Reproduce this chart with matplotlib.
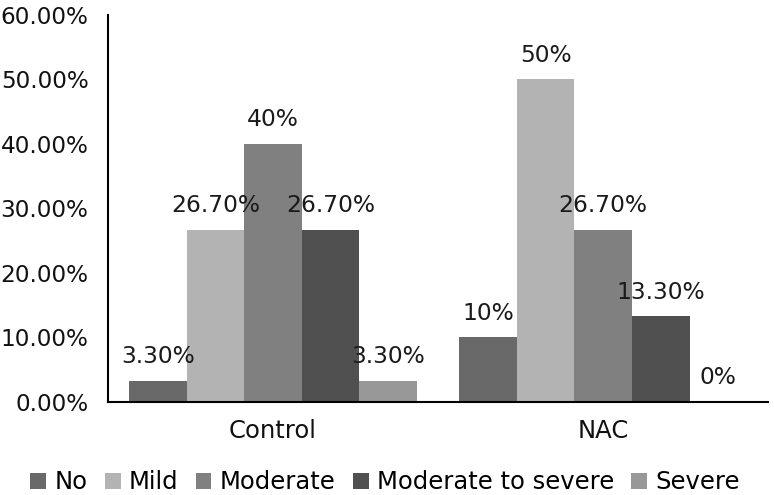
import matplotlib.pyplot as plt
import numpy as np

groups = ['Control', 'NAC']
severity = ['No', 'Mild', 'Moderate', 'Moderate to severe', 'Severe']
control = [3.3, 26.7, 40.0, 26.7, 3.3]
nac = [10.0, 50.0, 26.7, 13.3, 0.0]
control_labels = ['3.30%', '26.70%', '40%', '26.70%', '3.30%']
nac_labels = ['10%', '50%', '26.70%', '13.30%', '0%']
colors = ['#696969', '#b3b3b3', '#808080', '#505050', '#989898']
yticks = [0, 10, 20, 30, 40, 50, 60]

plt.rcParams['font.family'] = 'DejaVu Sans'

fig = plt.figure(figsize=(7.74, 4.95), dpi=100)
ax = fig.add_axes([0.1395, 0.188, 0.853, 0.782])

x = np.arange(len(groups))
width = 0.1745
values = np.array([control, nac]).T
labels = np.array([control_labels, nac_labels]).T
for i in range(len(severity)):
    pos = x + (i - 2) * width
    bars = ax.bar(pos, values[i], width, color=colors[i], label=severity[i])
    for b, lab in zip(bars, labels[i]):
        ax.annotate(lab, (b.get_x() + b.get_width() / 2, b.get_height()),
                    xytext=(0, 9), textcoords='offset points',
                    ha='center', va='bottom', fontsize=16.8, color='#1a1a1a')

ax.set_xlim(-0.5, 1.5)
ax.set_ylim(0, 60)
ax.set_yticks(yticks)
ax.set_yticklabels(['%.2f%%' % v for v in yticks], fontsize=16.7, color='#111111')
ax.set_xticks(x)
ax.set_xticklabels(groups, fontsize=17.5, color='#111111')
ax.tick_params(axis='y', length=0, pad=14)
ax.tick_params(axis='x', length=0, pad=12)
ax.spines['top'].set_visible(False)
ax.spines['right'].set_visible(False)
ax.spines['left'].set_linewidth(1.5)
ax.spines['bottom'].set_linewidth(1.5)

ax.legend(loc='upper center', bbox_to_anchor=(0.42, -0.12), ncol=5, frameon=False,
          fontsize=17.5, handlelength=0.65, handleheight=0.65, handletextpad=0.35,
          columnspacing=0.7)

fig.savefig('out.png', dpi=100)
